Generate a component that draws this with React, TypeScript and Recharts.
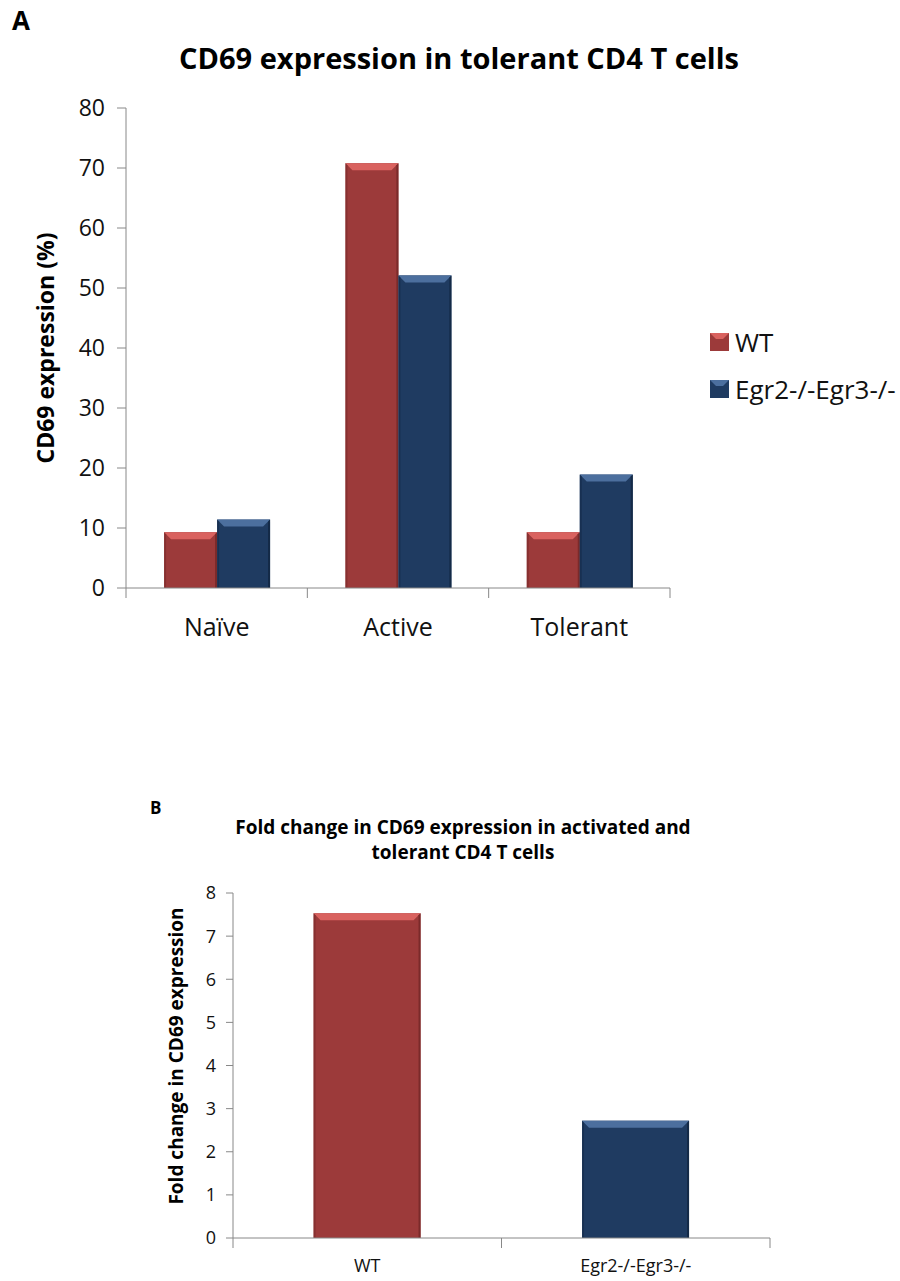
import React from 'react';
import { BarChart, Bar, XAxis, YAxis, Legend, Cell } from 'recharts';

const categoriesA = ['Naïve', 'Active', 'Tolerant'];
const wtA = [9.3, 70.8, 9.3];
const egrA = [11.4, 52.1, 18.9];
const yTicksA = [0, 10, 20, 30, 40, 50, 60, 70, 80];

const groupsB = ['WT', 'Egr2-/-Egr3-/-'];
const foldB = [7.53, 2.72];
const yTicksB = [0, 1, 2, 3, 4, 5, 6, 7, 8];

const seriesNames = ['WT', 'Egr2-/-Egr3-/-'];

const RED = '#9c3a3a';
const BLUE = '#1f3b61';
const LIGHT: Record<string, string> = { [RED]: '#d9625f', [BLUE]: '#4c6f9e' };
const DARK: Record<string, string> = { [RED]: '#7a2a2a', [BLUE]: '#142a47' };

const FONT = '"Open Sans", sans-serif';
const AXIS = '#888888';

const dataA = categoriesA.map((c, i) => ({ name: c, wt: wtA[i], egr: egrA[i] }));
const dataB = groupsB.map((g, i) => ({ name: g, fold: foldB[i] }));

// chart A plot box
const A_LEFT = 126;
const A_RIGHT = 670;
const A_TOP = 108;
const A_BOTTOM = 588;
const A_H = 660;

// chart B plot box
const B_OFFSET = 780;
const B_LEFT = 233;
const B_RIGHT = 770;
const B_TOP = 893;
const B_BOTTOM = 1238;
const B_H = 500;

const BevelBar = (props: any) => {
  const { x, y, width, height, fill } = props;
  if (!height || height <= 0) return null;
  const b = Math.min(7, height / 2, width / 4);
  const light = LIGHT[fill] || fill;
  const dark = DARK[fill] || fill;
  return (
    <g>
      <rect x={x} y={y} width={width} height={height} fill={fill} />
      <polygon
        points={`${x},${y} ${x + width},${y} ${x + width - b},${y + b} ${x + b},${y + b}`}
        fill={light}
      />
      <polygon
        points={`${x + width},${y} ${x + width},${y + height} ${x + width - 2},${y + height} ${x + width - 2},${y + 2}`}
        fill={dark}
      />
      <polygon
        points={`${x},${y} ${x + 2},${y + 2} ${x + 2},${y + height} ${x},${y + height}`}
        fill={dark}
        opacity={0.6}
      />
    </g>
  );
};

const makeXTick = (band: number, count: number, fontSize: number, dy: number) => (props: any) => {
  const { x, y, payload, index } = props;
  const left = x - band / 2;
  const right = x + band / 2;
  return (
    <g>
      <line x1={left} y1={y - 8} x2={left} y2={y + 2} stroke={AXIS} />
      {index === count - 1 && <line x1={right} y1={y - 8} x2={right} y2={y + 2} stroke={AXIS} />}
      <text x={x} y={y + dy} textAnchor="middle" fontSize={fontSize} fill="#111" fontFamily={FONT}>
        {payload.value}
      </text>
    </g>
  );
};

const LegendA = () => (
  <div style={{ fontFamily: FONT, fontSize: 26, color: '#111' }}>
    {seriesNames.map((n, i) => {
      const c = i === 0 ? RED : BLUE;
      return (
        <div key={n} style={{ display: 'flex', alignItems: 'center', height: 47 }}>
          <svg width={19} height={18} style={{ marginRight: 6 }}>
            <rect x={0} y={0} width={19} height={18} fill={c} />
            <polygon points="0,0 19,0 13,6 6,6" fill={LIGHT[c]} />
          </svg>
          <span>{n}</span>
        </div>
      );
    })}
  </div>
);

export default function App() {
  const bandA = (A_RIGHT - A_LEFT) / categoriesA.length;
  const bandB = (B_RIGHT - B_LEFT) / groupsB.length;
  return (
    <div style={{ position: 'absolute', left: 0, top: 0, width: 900, height: 1281, background: '#fff', fontFamily: FONT }}>
      <div style={{ position: 'absolute', left: 12, top: 2, fontSize: 26, fontWeight: 700 }}>A</div>
      <div style={{ position: 'absolute', left: 0, width: 900, top: 38, textAlign: 'center', fontSize: 29, fontWeight: 700 }}>
        <span style={{ position: 'relative', left: 9 }}>CD69 expression in tolerant CD4 T cells</span>
      </div>
      <div
        style={{
          position: 'absolute',
          left: 45,
          top: 348,
          transform: 'translate(-50%, -50%) rotate(-90deg)',
          whiteSpace: 'nowrap',
          fontSize: 23,
          fontWeight: 700,
        }}
      >
        CD69 expression (%)
      </div>

      <div style={{ position: 'absolute', left: 0, top: 0 }}>
        <BarChart
          width={900}
          height={A_H}
          data={dataA}
          margin={{ top: A_TOP, right: 900 - A_RIGHT, bottom: A_H - A_BOTTOM - 50, left: A_LEFT - 100 }}
          barCategoryGap="21%"
          barGap={0}
        >
          <XAxis
            dataKey="name"
            height={50}
            axisLine={{ stroke: AXIS }}
            tickLine={false}
            tick={makeXTick(bandA, categoriesA.length, 25, 40)}
            interval={0}
          />
          <YAxis
            width={100}
            domain={[0, 80]}
            ticks={yTicksA}
            interval={0}
            axisLine={{ stroke: AXIS }}
            tickLine={{ stroke: AXIS }}
            tickSize={9}
            tickMargin={12}
            tick={{ fontSize: 23, fill: '#111', fontFamily: FONT }}
          />
          <Legend
            layout="vertical"
            align="center"
            verticalAlign="middle"
            content={<LegendA />}
            wrapperStyle={{ left: 710, top: 318, width: 190 }}
          />
          <Bar dataKey="wt" name="WT" fill={RED} shape={<BevelBar />} isAnimationActive={false} />
          <Bar dataKey="egr" name="Egr2-/-Egr3-/-" fill={BLUE} shape={<BevelBar />} isAnimationActive={false} />
        </BarChart>
      </div>

      <div style={{ position: 'absolute', left: 150, top: 796, fontSize: 17, fontWeight: 700 }}>B</div>
      <div style={{ position: 'absolute', left: 163, width: 600, top: 815, textAlign: 'center', fontSize: 19, fontWeight: 700, lineHeight: '25px' }}>
        Fold change in CD69 expression in activated and
        <br />
        tolerant CD4 T cells
      </div>
      <div
        style={{
          position: 'absolute',
          left: 176,
          top: 1056,
          transform: 'translate(-50%, -50%) rotate(-90deg)',
          whiteSpace: 'nowrap',
          fontSize: 19,
          fontWeight: 700,
        }}
      >
        Fold change in CD69 expression
      </div>

      <div style={{ position: 'absolute', left: 0, top: B_OFFSET }}>
        <BarChart
          width={900}
          height={B_H}
          data={dataB}
          margin={{ top: B_TOP - B_OFFSET, right: 900 - B_RIGHT, bottom: B_H - (B_BOTTOM - B_OFFSET) - 40, left: B_LEFT - 100 }}
          barCategoryGap="30%"
        >
          <XAxis
            dataKey="name"
            height={40}
            axisLine={{ stroke: AXIS }}
            tickLine={false}
            tick={makeXTick(bandB, groupsB.length, 18, 26)}
            interval={0}
          />
          <YAxis
            width={100}
            domain={[0, 8]}
            ticks={yTicksB}
            interval={0}
            axisLine={{ stroke: AXIS }}
            tickLine={{ stroke: AXIS }}
            tickSize={7}
            tickMargin={10}
            tick={{ fontSize: 18, fill: '#111', fontFamily: FONT }}
          />
          <Bar dataKey="fold" shape={<BevelBar />} isAnimationActive={false}>
            {dataB.map((d, i) => (
              <Cell key={d.name} fill={i === 0 ? RED : BLUE} />
            ))}
          </Bar>
        </BarChart>
      </div>
    </div>
  );
}
